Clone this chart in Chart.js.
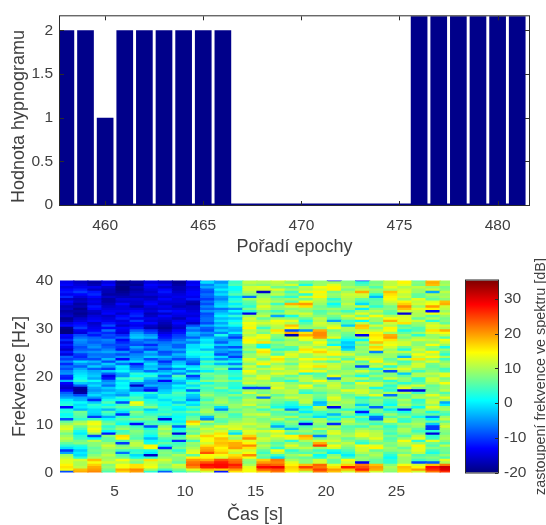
<!DOCTYPE html>
<html>
<head>
<meta charset="utf-8">
<script src="https://cdn.jsdelivr.net/npm/chart.js@4/dist/chart.umd.min.js"></script>
<style>
html, body { margin: 0; padding: 0; background: #fff; }
canvas { position: absolute; left: 0; top: 0; filter: blur(0.45px); }
</style>
</head>
<body>
<canvas id="hypno"></canvas>
<canvas id="spectro"></canvas>
<canvas id="colorbar"></canvas>
<script>
// top chart: hypnogram
var epochs = [458, 459, 460, 461, 462, 463, 464, 465, 466, 467, 468, 469, 470, 471, 472, 473, 474, 475, 476, 477, 478, 479, 480, 481];
var hypnogram = [2, 2, 1, 2, 2, 2, 2, 2, 2, 0, 0, 0, 0, 0, 0, 0, 0, 0, 3, 3, 3, 3, 3, 3];

// bottom chart: spectrogram in dB, one row per frequency, one column per second
var times = [1.6, 2.6, 3.6, 4.6, 5.6, 6.6, 7.6, 8.6, 9.6, 10.6, 11.6, 12.6, 13.6, 14.6, 15.6, 16.6, 17.6, 18.6, 19.6, 20.6, 21.6, 22.6, 23.6, 24.6, 25.6, 26.6, 27.6, 28.6];
var freqs = [40, 39.5, 39, 38.5, 38, 37.5, 37, 36.5, 36, 35.5, 35, 34.5, 34, 33.5, 33, 32.5, 32, 31.5, 31, 30.5, 30, 29.5, 29, 28.5, 28, 27.5, 27, 26.5, 26, 25.5, 25, 24.5, 24, 23.5, 23, 22.5, 22, 21.5, 21, 20.5, 20, 19.5, 19, 18.5, 18, 17.5, 17, 16.5, 16, 15.5, 15, 14.5, 14, 13.5, 13, 12.5, 12, 11.5, 11, 10.5, 10, 9.5, 9, 8.5, 8, 7.5, 7, 6.5, 6, 5.5, 5, 4.5, 4, 3.5, 3, 2.5, 2, 1.5, 1, 0.5, 0];
var spectrum = [
    [-15,-17,-16,-14,-19,-18,-14,-17,-18,-12,-3,-4,3,10, 11,13,12,6,8,-10,7,-10,9,12,14,5,17,10],
    [-14,-16,-18,-15,-20,-18,-15,-16,-19,-14,-1,-5,4,11, 10,11,8,7,9,9,8,3,7,11,15,8,19,9],
    [-13,-15,-17,-13,-19,-19,-13,-14,-18,-13,-6,-2,5,9, 8,10,12,2,9,13,8,5,8,11,13,7,18,10],
    [-15,-14,-14,-16,-20,-17,-14,-16,-17,-15,-4,-3,1,12, 13,7,6,11,14,15,10,9,5,13,10,11,9,7],
    [-13,-12,-16,-17,-20,-18,-15,-13,-17,-14,-8,0,1,12, 12,13,9,10,12,15,7,11,9,10,12,9,12,8],
    [-12,-10,-12,-17,-19,-17,-16,-12,-16,-13,-9,-3,3,10, -16,9,4,13,15,7,10,19,8,18,13,9,-4,11],
    [-14,-13,-11,-18,-18,-16,-15,-14,-15,-13,-7,-1,5,8, 8,11,7,3,13,9,12,12,3,16,11,6,10,9],
    [-11,-15,-13,-16,-17,-17,-17,-15,-14,-14,-8,-5,-1,-7, 9,5,3,12,15,8,11,11,-3,15,12,6,8,10],
    [-16,-17,-15,-18,-15,-15,-16,-13,-15,-12,-10,-6,2,9, 11,8,9,7,11,3,10,6,5,14,9,13,6,8],
    [-13,-16,-14,-18,-16,-16,-14,-15,-15,-17,-7,-3,4,6, 12,10,5,14,10,6,9,4,6,12,15,11,13,18],
    [-15,-18,-15,-17,-13,-16,-13,-16,-16,-18,-9,-2,0,5, 10,4,19,20,9,1,11,-1,6,10,17,12,14,19],
    [-17,-17,-12,-16,-15,-18,-15,-14,-17,-16,-6,-1,3,3, 13,9,12,16,7,4,9,11,3,7,21,9,20,12],
    [-16,-19,-13,-15,-15,-15,-16,-15,-15,-16,-8,-7,-5,7, 11,8,8,9,8,9,8,0,8,8,18,13,15,11],
    [-18,-18,-16,-14,-14,-13,-15,-12,-13,-15,-5,-4,1,3, 7,4,10,8,5,7,4,9,11,6,12,11,-13,9],
    [-17,-19,-17,-13,-16,-12,-17,-16,-14,-14,-9,-2,-3,-14, 9,8,11,12,6,10,8,13,8,5,-15,10,14,12],
    [-16,-18,-15,-16,-13,-11,-16,-13,-15,-15,-8,0,3,9, 11,-4,2,10,8,7,12,7,14,10,12,10,6,9],
    [-19,-16,-14,-15,-12,-14,-14,-15,-17,-13,-7,-3,-2,12, 6,9,8,6,11,5,9,15,9,14,13,6,10,7],
    [-18,-15,-13,-14,-15,-10,-15,-16,-14,-14,-7,-1,1,11, 10,14,13,2,10,-4,4,1,9,19,13,12,3,8],
    [-15,-13,-16,-12,-14,-13,-13,-17,-13,-16,-9,-4,3,14, 12,13,10,5,12,9,5,11,6,12,16,9,11,6],
    [-13,-12,-15,-9,-16,-14,-16,-18,-15,-9,-4,-1,1,13, 9,11,18,8,11,12,-2,18,12,10,5,8,13,12],
    [-19,-10,-14,-13,-13,-12,-17,-19,-16,-5,-8,-5,-3,15, 4,10,15,9,8,14,10,17,8,15,7,5,12,10],
    [-20,-14,-13,-7,-14,-8,-11,-17,-13,-7,-9,-2,-4,11, 9,16,-9,-5,19,7,10,11,11,14,2,5,16,19],
    [-20,-15,-10,-11,-15,-5,-9,-15,-12,-3,-5,-6,0,12, 7,13,19,16,21,9,7,13,15,9,6,9,13,14],
    [-13,-9,-12,-9,-11,-3,-5,-13,-10,-4,-7,2,-6,10, 13,8,-17,19,21,10,6,-14,16,19,9,3,9,11],
    [-14,-7,-8,-10,-8,-2,-3,-12,-9,-8,-3,-4,-10,13, 14,7,11,15,20,13,4,8,15,20,7,10,9,5],
    [-11,-5,-7,-6,-13,-6,-8,-10,-7,-3,0,-5,-4,15, 11,5,8,13,11,3,1,1,14,16,10,12,11,14],
    [-15,-6,-8,-7,-11,-8,-6,-7,-5,-6,-1,-8,-2,14, 16,9,10,8,14,6,-2,9,18,13,12,8,9,12],
    [-12,-7,-6,-9,-9,-9,-11,-6,-8,-1,2,-2,-2,9, 2,6,10,10,12,1,-1,6,11,14,12,8,14,9],
    [-14,-9,-5,-8,-10,-4,-7,-5,-8,-1,1,-7,-9,8, 1,7,5,12,9,12,-3,9,17,12,7,10,8,2],
    [-16,-8,-8,-6,-12,-7,-10,-5,-4,0,-3,-4,-2,10, 14,3,4,16,14,10,-1,8,15,9,2,12,6,9],
    [-12,-6,-5,-4,-5,-9,-3,-9,-7,2,3,-5,-7,6, 16,8,11,14,17,13,9,9,-6,11,11,10,15,6],
    [-15,-10,-7,-7,-9,-6,-5,-8,-3,1,1,-9,-5,9, 12,5,13,9,12,15,12,7,8,9,6,14,11,3],
    [-8,-11,-6,-7,-5,-5,-2,-3,-5,-1,3,-1,-10,9, 10,14,12,9,10,8,8,11,10,9,-3,11,14,10],
    [-10,-9,-9,-3,-13,-4,-9,-6,-9,-5,-1,-6,-3,13, 7,16,8,14,15,12,5,13,12,6,12,16,9,4],
    [-6,-1,-3,-9,-2,-1,-4,-11,-3,-7,5,3,1,11, 12,13,10,11,7,5,12,5,15,8,4,9,13,8],
    [-11,-5,-6,-2,-7,-12,-1,-7,-2,-9,2,-3,-6,8, 15,9,6,13,12,11,9,8,9,12,6,12,7,10],
    [-7,-8,-2,-5,0,-8,-3,-4,1,-1,6,5,3,12, 6,11,10,14,16,12,8,-9,11,3,10,12,6,9],
    [-9,-4,-8,-10,-1,-6,-2,-9,-6,1,4,8,-7,10, 11,13,9,12,9,11,7,7,2,10,13,8,7,4],
    [-6,-2,-4,-2,1,-3,-7,-4,-1,-5,0,4,2,14, 8,10,11,15,13,8,9,12,8,-9,10,4,8,5],
    [-5,-1,-3,-8,-4,3,1,-1,-6,2,7,5,3,12, 9,13,12,3,5,9,10,7,5,8,-2,10,11,13],
    [-11,0,-2,-14,-5,1,3,-7,5,-10,6,8,4,8, 12,9,6,10,6,13,7,2,9,8,6,10,9,13],
    [-12,1,-4,-12,3,5,-2,-3,2,-5,4,7,1,11, 13,6,9,11,8,-7,10,11,5,12,9,3,12,7],
    [-3,3,1,-6,-1,2,-5,-13,-2,1,8,9,7,10, 9,6,3,11,14,8,10,5,7,3,8,4,12,9],
    [-13,-2,-3,-4,1,-6,-6,-5,-4,4,2,5,3,12, 10,12,8,7,10,11,5,13,11,7,3,6,10,14],
    [-15,-8,-1,-7,0,-16,-3,-4,1,-1,6,5,3,6, 8,11,10,14,6,12,8,10,11,3,10,12,6,9],
    [-16,-18,-4,-2,1,-6,-9,-4,-1,3,4,8,2,-10, -10,13,9,12,9,11,7,10,2,5,13,7,7,9],
    [-13,-19,-5,-4,-2,-7,-13,-2,2,-8,5,3,6,9, 8,10,11,5,8,9,13,12,9,3,-14,-15,7,11],
    [-8,-18,-3,-1,-3,1,3,-1,5,2,7,5,3,12, 7,10,11,3,5,8,9,12,8,10,10,4,8,5],
    [-6,-9,-1,-3,-5,2,-1,3,4,-2,9,6,8,7, 11,6,9,10,7,10,6,9,13,-7,6,9,13,8],
    [-4,-4,-5,-1,3,5,-2,2,2,-3,6,8,4,8, -7,9,12,10,6,13,7,2,5,8,6,10,9,13],
    [0,-3,-11,2,1,4,2,-1,3,-6,4,9,6,11, 10,7,8,11,4,12,9,5,8,4,10,3,11,9],
    [2,1,-2,5,-9,14,3,2,-2,1,8,10,7,10, 9,6,3,11,-3,8,10,5,7,3,8,4,12,-4],
    [3,-1,3,1,4,12,5,1,4,-1,6,7,9,12, 7,4,2,7,-2,10,8,-2,6,1,10,6,9,0],
    [-13,0,2,4,6,5,8,3,1,5,7,-1,9,7, 10,2,0,1,11,-14,8,5,-8,6,7,1,13,9],
    [2,-3,-1,-3,2,3,-2,4,0,2,9,-6,6,9, 4,9,-6,4,9,5,3,2,7,0,-11,8,10,10],
    [3,7,-1,5,-1,8,2,3,4,7,10,6,8,9, 8,5,7,0,4,6,9,-12,7,5,2,8,2,6],
    [1,6,-2,3,-11,6,4,5,2,3,7,8,4,11, 12,6,4,6,3,-3,7,0,3,9,5,6,6,4],
    [2,5,-10,-4,3,4,6,-1,1,6,-3,9,5,8, 9,8,10,4,-1,5,3,7,-7,5,8,2,-6,9],
    [-9,3,4,1,5,8,7,-15,2,7,-6,6,7,10, 7,11,5,8,9,2,9,3,-8,10,4,7,1,11],
    [6,9,13,5,3,3,4,2,0,18,11,5,9,10, 8,6,9,3,10,7,11,5,6,12,3,8,7,6],
    [9,11,14,7,1,-13,5,5,3,14,6,8,11,12, 10,3,7,-14,8,-11,9,8,4,6,9,10,-2,10],
    [12,7,12,3,7,4,-9,9,-8,9,9,13,12,9, 11,-4,5,5,6,10,5,4,9,3,7,9,-10,12],
    [13,5,14,5,9,6,2,11,1,6,12,10,13,11, 8,6,-3,7,11,8,6,9,7,5,10,6,-10,9],
    [10,2,13,1,4,8,4,8,3,8,10,12,5,13, 12,14,8,9,5,12,7,11,10,6,10,4,3,8],
    [7,0,9,-12,5,7,3,10,-15,6,12,16,-1,12, 9,11,4,6,7,13,9,13,11,4,8,7,-15,7],
    [9,3,-9,8,16,6,1,8,4,12,17,14,11,17, 9,13,15,19,-6,9,10,13,11,7,5,11,3,9],
    [11,4,1,6,15,5,-3,5,6,10,14,18,9,21, 12,10,13,17,7,10,6,9,13,5,9,13,4,10],
    [9,7,11,6,5,9,1,3,-11,4,14,17,16,13, 11,8,3,10,12,12,8,5,9,6,14,3,13,8],
    [6,8,8,9,-10,11,2,6,4,9,12,18,19,15, 8,5,9,7,19,9,11,3,7,8,11,9,7,5],
    [3,3,8,12,7,11,15,2,5,8,16,17,19,21, 11,7,13,8,25,14,9,14,13,7,10,15,5,11],
    [-1,1,6,10,9,8,14,-11,7,10,19,15,20,16, 9,3,10,11,9,12,7,12,15,9,6,13,8,7],
    [-10,-2,7,8,4,3,2,7,3,12,20,16,13,12, 6,14,3,7,4,2,5,12,6,8,9,13,4,7],
    [-4,0,6,9,-7,4,0,8,6,13,24,18,11,14, 4,11,6,5,7,0,3,10,9,5,7,11,2,6],
    [9,-1,8,11,5,-1,-16,7,10,6,14,14,16,21, 7,4,9,11,1,8,0,7,10,3,11,5,6,9],
    [11,3,10,9,7,2,3,9,8,15,15,12,18,14, 5,-1,7,6,3,10,4,9,8,1,9,7,8,5],
    [13,12,18,10,14,9,16,12,8,20,19,24,22,9, 17,22,10,8,12,6,14,8,6,3,9,4,6,13],
    [13,10,14,12,11,7,12,10,6,22,24,27,23,8, 20,21,13,8,12,6,12,-14,6,3,9,-9,-8,10],
    [15,10,17,8,14,16,13,8,12,23,28,28,27,10, 24,23,15,18,23,13,17,22,18,8,14,12,18,22],
    [16,11,19,9,14,16,14,9,11,21,27,28,25,13, 28,29,17,25,22,16,27,24,20,10,18,15,28,31],
    [14,18,20,7,19,21,9,4,7,13,18,17,20,14, 23,24,16,19,25,20,18,27,19,9,17,20,26,30],
    [-9,19,21,5,17,20,3,-8,4,8,12,-12,16,14, 18,22,14,11,22,18,12,20,12,8,16,12,22,26]
];

// colour bar limits, same as the spectrogram colour mapping
var climMin = -20;
var climMax = 35.3;

var fontName = '"Liberation Sans", Arial, sans-serif';
var textColor = '#404040';
var frameColor = '#2b2b2b';
var navy = '#00008a';

function jet(v) {
    var t = (v - climMin) / (climMax - climMin);
    function ch(c) {
        return Math.round(255 * Math.max(0, Math.min(1, 1.5 - Math.abs(4 * t - c))));
    }
    return 'rgb(' + ch(3) + ',' + ch(2) + ',' + ch(1) + ')';
}

// fixes the room an axis takes, so the three plots line up like the original
function fixedSize(size) {
    return function (scale) {
        if (scale.isHorizontal()) {
            scale.height = size;
        } else {
            scale.width = size;
        }
    };
}

// axes box with the ticks pointing inward
var framePlugin = {
    id: 'frame',
    afterDatasetsDraw: function (chart, args, opts) {
        if (!opts.box) return;
        var ctx = chart.ctx;
        var a = chart.chartArea;
        var len = opts.tick;
        ctx.save();
        ctx.strokeStyle = frameColor;
        ctx.lineWidth = 1;
        ctx.strokeRect(a.left - 0.5, a.top - 0.5, a.right - a.left + 1, a.bottom - a.top + 1);
        ctx.beginPath();
        if (chart.scales.x && chart.scales.x.options.display) {
            chart.scales.x.ticks.forEach(function (t) {
                var px = Math.round(chart.scales.x.getPixelForValue(t.value)) + 0.5;
                ctx.moveTo(px, a.bottom);
                ctx.lineTo(px, a.bottom - len);
                ctx.moveTo(px, a.top);
                ctx.lineTo(px, a.top + len);
            });
        }
        chart.scales.y.ticks.forEach(function (t) {
            var py = Math.round(chart.scales.y.getPixelForValue(t.value)) + 0.5;
            if (!opts.rightOnly) {
                ctx.moveTo(a.left, py);
                ctx.lineTo(a.left + len, py);
            }
            ctx.moveTo(a.right, py);
            ctx.lineTo(a.right - len, py);
        });
        ctx.stroke();
        ctx.restore();
    }
};

// rotated titles Chart.js cannot place: the right hand one turns the other way,
// and the hypnogram one sits off centre in the original
var sideTitlePlugin = {
    id: 'sideTitle',
    afterDraw: function (chart, args, opts) {
        if (!opts.text) return;
        var ctx = chart.ctx;
        ctx.save();
        ctx.translate(opts.x, opts.y);
        ctx.rotate(-Math.PI / 2);
        ctx.font = opts.size + 'px ' + fontName;
        ctx.fillStyle = textColor;
        ctx.textAlign = 'center';
        ctx.textBaseline = 'middle';
        ctx.fillText(opts.text, 0, 0);
        ctx.restore();
    }
};

Chart.register(framePlugin, sideTitlePlugin);

function axis(extra) {
    var base = {
        type: 'linear',
        offset: false,
        grid: { display: false, drawTicks: false },
        border: { display: false },
        ticks: {
            color: textColor,
            font: { family: fontName, size: 15.5 },
            padding: 7,
            includeBounds: false,
            autoSkip: false,
            maxRotation: 0,
            callback: function (v) { return String(v); }
        }
    };
    base.ticks = Object.assign(base.ticks, extra.ticks);
    delete extra.ticks;
    return Object.assign(base, extra);
}

function axisTitle(text, pad) {
    return {
        display: true,
        text: text,
        color: textColor,
        font: { family: fontName, size: 18 },
        padding: pad
    };
}

function sizeCanvas(id) {
    var c = document.getElementById(id);
    c.width = 546;
    c.height = 525;
    c.style.width = '546px';
    c.style.height = '525px';
    return c;
}

var commonOptions = {
    responsive: false,
    animation: false,
    events: []
};

// hypnogram
var epochPoints = epochs.map(function (e, i) {
    return { x: e, y: hypnogram[i] };
});
new Chart(sizeCanvas('hypno'), {
    type: 'bar',
    data: {
        datasets: [
            {
                data: epochPoints,
                backgroundColor: navy,
                barPercentage: 0.85,
                categoryPercentage: 1
            },
            {
                // zero height bars still show as the line on the base
                type: 'line',
                data: [{ x: epochs[0], y: 0 }, { x: epochs[epochs.length - 1], y: 0 }],
                borderColor: navy,
                borderWidth: 3,
                pointRadius: 0
            }
        ]
    },
    options: Object.assign({}, commonOptions, {
        layout: { padding: { left: 0, top: 14, right: 17, bottom: 265 } },
        plugins: {
            legend: { display: false },
            tooltip: { enabled: false },
            frame: { box: true, tick: 4 },
            sideTitle: { text: 'Hodnota hypnogramu', x: 19, y: 116.5, size: 18 }
        },
        scales: {
            x: axis({
                min: 457.7,
                max: 481.6,
                ticks: { stepSize: 5, padding: 11 },
                title: axisTitle('Pořadí epochy', { top: 0, bottom: 2.5 }),
                afterFit: fixedSize(55)
            }),
            y: axis({
                min: 0,
                max: 2.16,
                ticks: { stepSize: 0.5 },
                afterFit: fixedSize(60)
            })
        }
    })
});

// spectrogram, one floating bar per cell
var cells = [];
freqs.forEach(function (f, r) {
    times.forEach(function (t, c) {
        cells.push({ x: t, y: [f - 0.25, f + 0.28], v: spectrum[r][c] });
    });
});
new Chart(sizeCanvas('spectro'), {
    type: 'bar',
    data: {
        datasets: [{
            data: cells,
            barThickness: 14.6,
            backgroundColor: function (ctx) {
                return ctx.raw ? jet(ctx.raw.v) : '#fff';
            }
        }]
    },
    options: Object.assign({}, commonOptions, {
        layout: { padding: { left: 0, top: 280.5, right: 96, bottom: 0 } },
        plugins: { legend: { display: false }, tooltip: { enabled: false } },
        scales: {
            x: axis({
                min: 1.12,
                max: 28.8,
                ticks: { stepSize: 5, padding: 10 },
                title: axisTitle('Čas [s]', { top: 0, bottom: -1 }),
                afterFit: fixedSize(52.5)
            }),
            y: axis({
                min: 0,
                max: 40,
                ticks: { stepSize: 10 },
                title: axisTitle('Frekvence [Hz]', { top: 9, bottom: 0 }),
                afterFit: fixedSize(60)
            })
        }
    })
});

// colour bar
new Chart(sizeCanvas('colorbar'), {
    type: 'bar',
    data: {
        labels: ['dB'],
        datasets: [{
            data: [[climMin, climMax]],
            barPercentage: 1,
            categoryPercentage: 1,
            backgroundColor: function (ctx) {
                var a = ctx.chart.chartArea;
                if (!a) return '#fff';
                var y = ctx.chart.scales.y;
                var g = ctx.chart.ctx.createLinearGradient(0, y.getPixelForValue(climMin), 0, y.getPixelForValue(climMax));
                for (var i = 0; i <= 64; i++) {
                    g.addColorStop(i / 64, jet(climMin + (climMax - climMin) * i / 64));
                }
                return g;
            }
        }]
    },
    options: Object.assign({}, commonOptions, {
        layout: { padding: { left: 466, top: 280.5, right: 0, bottom: 52.5 } },
        plugins: {
            legend: { display: false },
            tooltip: { enabled: false },
            frame: { box: true, tick: 3, rightOnly: true },
            sideTitle: { text: 'zastoupení frekvence ve spektru [dB]', x: 541, y: 376.5, size: 14.4 }
        },
        scales: {
            x: { display: false },
            y: axis({
                position: 'right',
                min: climMin,
                max: climMax,
                ticks: { stepSize: 10, padding: 6 },
                afterFit: fixedSize(48)
            })
        }
    })
});
</script>
</body>
</html>
